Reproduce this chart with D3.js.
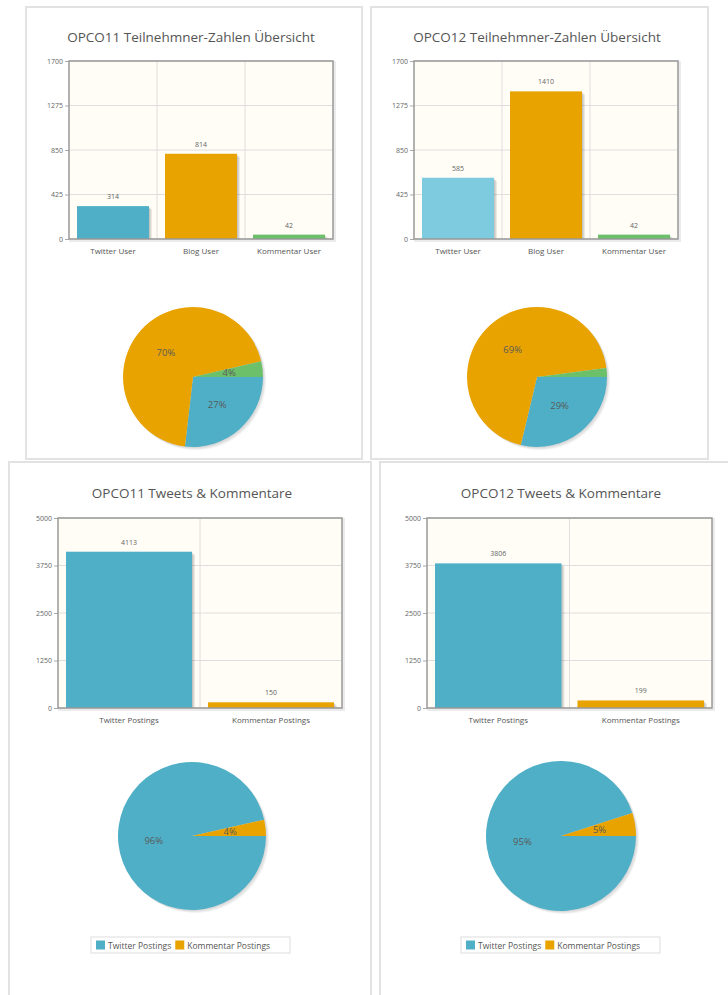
<!DOCTYPE html>
<html>
<head>
<meta charset="utf-8">
<script src="https://cdn.jsdelivr.net/npm/d3@7"></script>
<style>
  body { margin: 0; background: #fff; }
  svg { display: block; }
</style>
</head>
<body>
<svg id="chart" width="728" height="995"></svg>
<script>
// Data
let userCategories = ["Twitter User", "Blog User", "Kommentar User"];
let opco11Users = [314, 814, 42];
let opco12Users = [585, 1410, 42];
let userTicks = [0, 425, 850, 1275, 1700];

let postCategories = ["Twitter Postings", "Kommentar Postings"];
let opco11Posts = [4113, 150];
let opco12Posts = [3806, 199];
let postTicks = [0, 1250, 2500, 3750, 5000];

// Colors
let colors = {
  blue: "#4eafc7",
  lightBlue: "#7ecbdf",
  orange: "#e9a300",
  green: "#6cc06a",
  text: "#555",
  tick: "#666",
  grid: "#dedede",
  border: "#999",
  plotBg: "#fffdf6",
  panel: "#e2e2e2"
};

let svg = d3.select("#chart");
let font = "'Open Sans', 'DejaVu Sans', sans-serif";

// Panel frames
let panels = [
  { x: 26, y: 7, w: 336, h: 452 },
  { x: 371, y: 7, w: 337, h: 452 },
  { x: 9, y: 462, w: 362, h: 560 },
  { x: 380, y: 462, w: 370, h: 560 }
];
panels.forEach(p => {
  svg.append("rect")
    .attr("x", p.x).attr("y", p.y)
    .attr("width", p.w).attr("height", p.h)
    .attr("fill", "#fff")
    .attr("stroke", colors.panel)
    .attr("stroke-width", 2);
});

let charts = [
  {
    title: "OPCO11 Teilnehmner-Zahlen Übersicht",
    cats: userCategories, values: opco11Users, ticks: userTicks,
    barColors: [colors.blue, colors.orange, colors.green],
    pieColors: [colors.blue, colors.orange, colors.green],
    titleX: 191, titleY: 42,
    plot: { x0: 69, x1: 333, y0: 61, y1: 239 },
    pie: { cx: 193, cy: 377, r: 70 },
    legend: false
  },
  {
    title: "OPCO12 Teilnehmner-Zahlen Übersicht",
    cats: userCategories, values: opco12Users, ticks: userTicks,
    barColors: [colors.lightBlue, colors.orange, colors.green],
    pieColors: [colors.blue, colors.orange, colors.green],
    titleX: 537, titleY: 42,
    plot: { x0: 414, x1: 678, y0: 61, y1: 239 },
    pie: { cx: 537, cy: 377, r: 70 },
    legend: false
  },
  {
    title: "OPCO11 Tweets & Kommentare",
    cats: postCategories, values: opco11Posts, ticks: postTicks,
    barColors: [colors.blue, colors.orange],
    pieColors: [colors.blue, colors.orange],
    titleX: 192, titleY: 498,
    plot: { x0: 58, x1: 342, y0: 518, y1: 708 },
    pie: { cx: 192, cy: 836, r: 74 },
    legend: { x: 91, y: 937, w: 199, h: 16 }
  },
  {
    title: "OPCO12 Tweets & Kommentare",
    cats: postCategories, values: opco12Posts, ticks: postTicks,
    barColors: [colors.blue, colors.orange],
    pieColors: [colors.blue, colors.orange],
    titleX: 561, titleY: 498,
    plot: { x0: 427, x1: 712, y0: 518, y1: 708 },
    pie: { cx: 561, cy: 836, r: 75 },
    legend: { x: 461, y: 937, w: 199, h: 16 }
  }
];

charts.forEach(c => {
  let g = svg.append("g");
  let p = c.plot;

  // Title
  g.append("text")
    .attr("x", c.titleX)
    .attr("y", c.titleY)
    .attr("text-anchor", "middle")
    .style("font-family", font)
    .style("font-size", "13.5px")
    .style("fill", colors.text)
    .text(c.title);

  // Scales
  let x = d3.scaleBand()
    .domain(c.cats)
    .range([p.x0, p.x1])
    .padding(0);
  let y = d3.scaleLinear()
    .domain([c.ticks[0], c.ticks[c.ticks.length - 1]])
    .range([p.y1, p.y0]);

  // Plot background + border shadow
  g.append("rect")
    .attr("x", p.x0 + 1.5).attr("y", p.y0 + 1.5)
    .attr("width", p.x1 - p.x0).attr("height", p.y1 - p.y0)
    .attr("fill", "none")
    .attr("stroke", "#000")
    .attr("stroke-opacity", 0.08)
    .attr("stroke-width", 3);
  g.append("rect")
    .attr("x", p.x0).attr("y", p.y0)
    .attr("width", p.x1 - p.x0).attr("height", p.y1 - p.y0)
    .attr("fill", colors.plotBg);

  // Grid lines
  g.selectAll(".hgrid")
    .data(c.ticks)
    .enter().append("line")
    .attr("x1", p.x0).attr("x2", p.x1)
    .attr("y1", d => y(d)).attr("y2", d => y(d))
    .attr("stroke", colors.grid);
  g.selectAll(".vgrid")
    .data(c.cats.slice(1))
    .enter().append("line")
    .attr("x1", d => x(d)).attr("x2", d => x(d))
    .attr("y1", p.y0).attr("y2", p.y1)
    .attr("stroke", colors.grid);

  // Y axis
  let yAxis = g.append("g")
    .attr("transform", "translate(" + p.x0 + ",0)")
    .call(d3.axisLeft(y).tickValues(c.ticks).tickFormat(d3.format("d")).tickSize(4).tickPadding(2));
  yAxis.select(".domain").remove();
  yAxis.selectAll("line").attr("stroke", "#aaa");
  yAxis.selectAll("text")
    .style("font-family", font)
    .style("font-size", "7px")
    .style("fill", colors.tick);

  // X axis labels
  let xAxis = g.append("g")
    .attr("transform", "translate(0," + p.y1 + ")")
    .call(d3.axisBottom(x).tickSize(0).tickPadding(9));
  xAxis.select(".domain").remove();
  xAxis.selectAll("text")
    .style("font-family", font)
    .style("font-size", "8px")
    .style("fill", colors.text);

  // Bars
  let margin = 8;
  let bars = c.cats.map((cat, i) => ({ cat: cat, value: c.values[i], color: c.barColors[i] }));
  let barG = g.append("g");
  [3, 2, 1].forEach(off => {
    barG.selectAll(null)
      .data(bars)
      .enter().append("rect")
      .attr("x", d => x(d.cat) + margin + off)
      .attr("y", d => y(d.value) + off)
      .attr("width", x.bandwidth() - 2 * margin)
      .attr("height", d => p.y1 - y(d.value) - off)
      .attr("fill", "#000")
      .attr("fill-opacity", 0.08);
  });
  barG.selectAll(null)
    .data(bars)
    .enter().append("rect")
    .attr("x", d => x(d.cat) + margin)
    .attr("y", d => y(d.value))
    .attr("width", x.bandwidth() - 2 * margin)
    .attr("height", d => p.y1 - y(d.value))
    .attr("fill", d => d.color);

  // Value labels
  g.selectAll(null)
    .data(bars)
    .enter().append("text")
    .attr("x", d => x(d.cat) + x.bandwidth() / 2)
    .attr("y", d => y(d.value) - 7)
    .attr("text-anchor", "middle")
    .style("font-family", font)
    .style("font-size", "7px")
    .style("fill", colors.tick)
    .text(d => d.value);

  // Plot border
  g.append("rect")
    .attr("x", p.x0).attr("y", p.y0)
    .attr("width", p.x1 - p.x0).attr("height", p.y1 - p.y0)
    .attr("fill", "none")
    .attr("stroke", colors.border)
    .attr("stroke-width", 1.5);

  // Pie (starts at 3 o'clock, clockwise)
  let total = d3.sum(c.values);
  let pie = d3.pie()
    .sort(null)
    .startAngle(Math.PI / 2)
    .endAngle(Math.PI / 2 + 2 * Math.PI)
    .value(d => d.value);
  let slices = pie(bars.map((b, i) => ({ cat: b.cat, value: b.value, color: c.pieColors[i] })));
  let arc = d3.arc().innerRadius(0).outerRadius(c.pie.r);
  let labelArc = d3.arc().innerRadius(c.pie.r * 0.52).outerRadius(c.pie.r * 0.52);

  let pg = g.append("g")
    .attr("transform", "translate(" + c.pie.cx + "," + c.pie.cy + ")");
  [3, 2, 1].forEach(off => {
    pg.append("circle")
      .attr("cx", off).attr("cy", off)
      .attr("r", c.pie.r)
      .attr("fill", "#000")
      .attr("fill-opacity", 0.05);
  });
  pg.selectAll(".slice")
    .data(slices)
    .enter().append("path")
    .attr("d", arc)
    .attr("fill", d => d.data.color);
  pg.selectAll(".plabel")
    .data(slices.filter(d => d.data.value / total >= 0.03))
    .enter().append("text")
    .attr("transform", d => "translate(" + labelArc.centroid(d) + ")")
    .attr("text-anchor", "middle")
    .attr("dy", "0.35em")
    .style("font-family", font)
    .style("font-size", "9.5px")
    .style("fill", "#5a5a5a")
    .text(d => Math.round(d.data.value / total * 100) + "%");

  // Legend
  if (c.legend) {
    let l = c.legend;
    let lg = g.append("g");
    lg.append("rect")
      .attr("x", l.x).attr("y", l.y)
      .attr("width", l.w).attr("height", l.h)
      .attr("fill", "#fff")
      .attr("stroke", "#ddd");
    let cursor = l.x + 5;
    bars.forEach((b, i) => {
      lg.append("rect")
        .attr("x", cursor).attr("y", l.y + 3.5)
        .attr("width", 9).attr("height", 9)
        .attr("fill", c.pieColors[i]);
      let t = lg.append("text")
        .attr("x", cursor + 12)
        .attr("y", l.y + 11.5)
        .style("font-family", font)
        .style("font-size", "8.5px")
        .style("fill", colors.text)
        .text(b.cat);
      cursor += 12 + t.node().getComputedTextLength() + 4;
    });
  }
});
</script>
</body>
</html>
